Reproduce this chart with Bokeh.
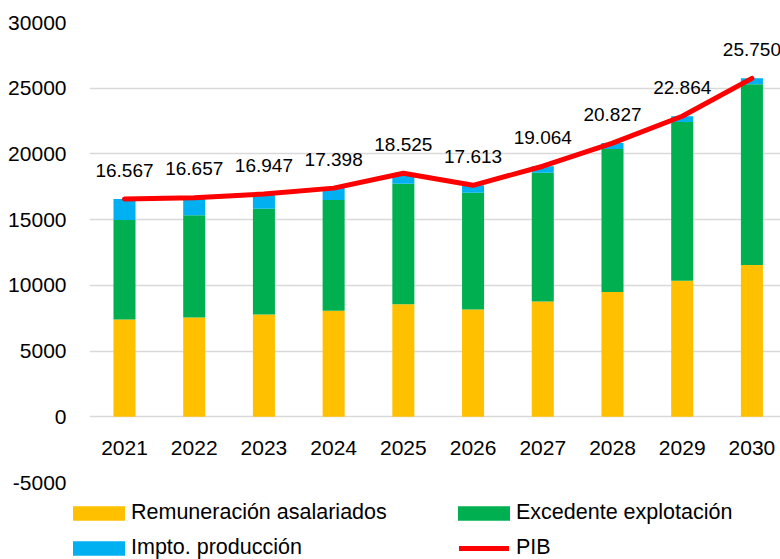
from bokeh.plotting import figure
from bokeh.layouts import column, row
from bokeh.models import ColumnDataSource, Range1d, FixedTicker, Legend, LegendItem
from bokeh.core.properties import value
from bokeh.embed import file_html
from bokeh.resources import INLINE

years = ["2021", "2022", "2023", "2024", "2025", "2026", "2027", "2028", "2029", "2030"]
remuneracion = [7400, 7550, 7780, 8060, 8560, 8160, 8770, 9500, 10360, 11550]
excedente = [7580, 7780, 8050, 8430, 9170, 8890, 9790, 10880, 12065, 13750]
impuestos = [1590, 1320, 1110, 910, 795, 570, 500, 450, 440, 450]
pib = [16567, 16657, 16947, 17398, 18525, 17613, 19064, 20827, 22864, 25750]
y_ticks = [-5000, 0, 5000, 10000, 15000, 20000, 25000, 30000]
series_names = ["Remuneración asalariados", "Excedente explotación", "Impto. producción", "PIB"]
colors = ["#FFC000", "#00B050", "#00B0F0", "#FF0000"]

FONT = "Liberation Sans"

xs = list(range(len(years)))
src = ColumnDataSource(dict(
    x=xs, year=years, rem=remuneracion, exc=excedente, imp=impuestos, pib=pib,
    lab=[f"{v:,}".replace(",", ".") for v in pib],
))

p = figure(width=780, height=499, output_backend="svg", toolbar_location=None,
           x_range=Range1d(-0.502, 9.41), y_range=Range1d(-5000, 30000),
           min_border_left=89, min_border_right=0, min_border_top=22, min_border_bottom=17)
p.outline_line_color = None
p.background_fill_color = "white"
p.border_fill_color = "white"

p.xaxis.visible = False
p.xgrid.visible = False
p.yaxis.ticker = FixedTicker(ticks=y_ticks)
p.yaxis.major_label_overrides = {t: str(t) for t in y_ticks}
p.yaxis.axis_line_color = None
p.yaxis.major_tick_line_color = None
p.yaxis.minor_tick_line_color = None
p.yaxis.major_tick_in = 0
p.yaxis.major_tick_out = 0
p.yaxis.major_label_standoff = 23
p.yaxis.major_label_text_font = FONT
p.yaxis.major_label_text_font_size = "21px"
p.yaxis.major_label_text_color = "#000000"
p.ygrid.ticker = FixedTicker(ticks=y_ticks)
p.ygrid.grid_line_color = "#d9d9d9"
p.ygrid.grid_line_width = 1.5

bars = p.vbar_stack(["rem", "exc", "imp"], x="x", width=0.316, source=src,
                    color=colors[:3], line_color=None)

ln = p.line("x", "pib", source=src, line_color=colors[3], line_width=5,
            line_cap="round", line_join="round")

p.text("x", "pib", text="lab", source=src, text_align="center", text_baseline="middle",
       y_offset=-29, text_font=value(FONT), text_font_size="19px", text_color="#000000")

p.text("x", 0, text="year", source=src, text_align="center", text_baseline="middle",
       y_offset=31, text_font=value(FONT), text_font_size="21px", text_color="#000000")

# legend strip below the chart
pl = figure(width=780, height=60, output_backend="svg", toolbar_location=None,
            x_range=Range1d(0, 1), y_range=Range1d(0, 1),
            min_border_left=0, min_border_right=0, min_border_top=0, min_border_bottom=0)
pl.axis.visible = False
pl.grid.visible = False
pl.outline_line_color = None
pl.background_fill_color = "white"
pl.border_fill_color = "white"
dummy = [pl.vbar(x=[5], top=[5], bottom=[4], width=0.1, color=c, line_color=None)
         for c in colors[:3]]
dummy.append(pl.line(x=[5, 6], y=[5, 5], line_color=colors[3], line_width=5, line_cap="round"))

def make_legend(i, loc, gw, standoff):
    return Legend(items=[LegendItem(label=series_names[i], renderers=[dummy[i]])],
                  location=loc, orientation="vertical",
                  glyph_width=gw, glyph_height=18, label_height=24, label_standoff=standoff,
                  spacing=0, padding=0, margin=0, border_line_color=None,
                  background_fill_alpha=0,
                  label_text_font=FONT, label_text_font_size="21.5px",
                  label_text_color="#000000")

pl.add_layout(make_legend(0, (66, 34), 65, 0), "center")
pl.add_layout(make_legend(2, (66, -1), 65, 0), "center")
pl.add_layout(make_legend(1, (451, 34), 65, 0), "center")
pl.add_layout(make_legend(3, (459, -1), 50, 7), "center")

layout = column(p, row(pl, spacing=0), spacing=0)
open("out.html", "w").write(file_html(layout, INLINE))
